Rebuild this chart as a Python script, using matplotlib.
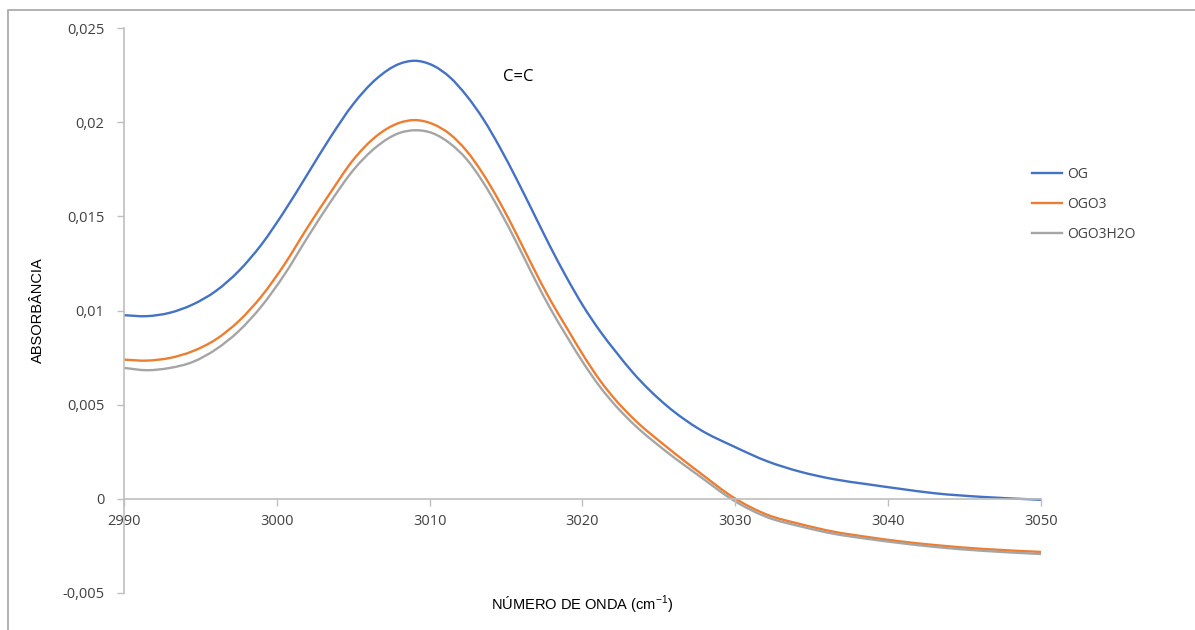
import matplotlib
matplotlib.use('Agg')
import matplotlib.pyplot as plt
import numpy as np
from matplotlib.patches import Rectangle, PathPatch
from matplotlib.path import Path
from matplotlib.lines import Line2D

# wavenumber (cm-1) and absorbance
wavenumber = [2990, 2991.5, 2993.0, 2994.5, 2996.0, 2997.5, 2999.0, 3000.5, 3002.0, 3003.5,
              3005.0, 3006.5, 3008.0, 3009.0, 3010.24, 3011.33, 3012.42, 3013.51, 3014.6,
              3015.69, 3016.78, 3017.87, 3018.97, 3020.05, 3021.15, 3022.24, 3023.3,
              3025.5, 3027.7, 3029.9, 3032.1, 3034.2, 3036.4, 3038.6, 3040.8, 3043.0,
              3046.2, 3050]
og = [0.00975, 0.00970, 0.00988, 0.01032, 0.01103, 0.01209, 0.01351, 0.01528, 0.01723,
      0.01919, 0.02096, 0.02229, 0.02309, 0.02326, 0.02300, 0.02238, 0.02140, 0.02016,
      0.01865, 0.01697, 0.01520, 0.01342, 0.01174, 0.01023, 0.00890, 0.00775, 0.00670,
      0.00495, 0.00367, 0.00278, 0.00199, 0.00145, 0.00105, 0.00078, 0.00053, 0.00030,
      0.00010, -0.00005]
ogo3 = [0.00739, 0.00734, 0.00748, 0.00784, 0.00846, 0.00943, 0.01076, 0.01245, 0.01440,
        0.01625, 0.01800, 0.01925, 0.01996, 0.02011, 0.01989, 0.01936, 0.01847, 0.01723,
        0.01573, 0.01404, 0.01227, 0.01059, 0.00908, 0.00762, 0.00628, 0.00518, 0.00428,
        0.00276, 0.00137, 0.00006, -0.00085, -0.00133, -0.00174, -0.00202, -0.00226,
        -0.00245, -0.00266, -0.00282]
ogo3h2o = [0.00695, 0.00683, 0.00695, 0.00727, 0.00793, 0.00890, 0.01023, 0.01191, 0.01387,
           0.01575, 0.01745, 0.01868, 0.01942, 0.01957, 0.01940, 0.01887, 0.01803, 0.01679,
           0.01528, 0.01360, 0.01182, 0.01014, 0.00863, 0.00722, 0.00594, 0.00488, 0.00400,
           0.00250, 0.00118, -0.00009, -0.00098, -0.00145, -0.00185, -0.00212, -0.00235,
           -0.00255, -0.00276, -0.00293]

series_names = ['OG', 'OGO3', 'OGO3H2O']
series_colors = ['#4472C4', '#ED7D31', '#A5A5A5']

x_ticks = [2990, 3000, 3010, 3020, 3030, 3040, 3050]
y_ticks = [-0.005, 0, 0.005, 0.01, 0.015, 0.02, 0.025]
y_labels = ['-0,005', '0', '0,005', '0,01', '0,015', '0,02', '0,025']


def smooth_path(xs, ys):
    # smoothed line like Excel: cubic bezier segments through the points,
    # tangents from neighbouring points
    x = np.asarray(xs, float)
    y = np.asarray(ys, float)
    m = np.gradient(y, x)
    verts = [(x[0], y[0])]
    codes = [Path.MOVETO]
    for i in range(len(x) - 1):
        h = x[i + 1] - x[i]
        verts += [(x[i] + h / 3, y[i] + m[i] * h / 3),
                  (x[i + 1] - h / 3, y[i + 1] - m[i + 1] * h / 3),
                  (x[i + 1], y[i + 1])]
        codes += [Path.CURVE4] * 3
    return Path(verts, codes)


fig = plt.figure(figsize=(11.95, 6.3), dpi=100)
ax = fig.add_axes([124/1195, 1 - 593/630, (1041 - 124)/1195, (593 - 28)/630])

handles = []
for ys, name, col in zip([og, ogo3, ogo3h2o], series_names, series_colors):
    ax.add_patch(PathPatch(smooth_path(wavenumber, ys), fill=False, edgecolor=col, lw=1.7))
    handles.append(Line2D([], [], color=col, lw=1.7, label=name))

ax.set_xlim(2990, 3050)
ax.set_ylim(-0.005, 0.025)
ax.set_xticks(x_ticks)
ax.set_yticks(y_ticks)
ax.set_yticklabels(y_labels)

axis_col = '#BFBFBF'
ax.spines['top'].set_visible(False)
ax.spines['right'].set_visible(False)
ax.spines['bottom'].set_position(('data', 0))
ax.spines['bottom'].set_color(axis_col)
ax.spines['left'].set_color(axis_col)
ax.spines['bottom'].set_linewidth(1.2)
ax.spines['left'].set_linewidth(1.2)
ax.tick_params(axis='both', colors=axis_col, length=5, width=1, labelcolor='#404040',
               labelsize=10.5)
ax.tick_params(axis='y', pad=9)
ax.tick_params(axis='x', pad=6)
for lab in ax.get_xticklabels() + ax.get_yticklabels():
    lab.set_family('Open Sans')

fig.text(38/1195, 1 - 310/630, 'ABSORBÂNCIA', rotation=90, ha='center', va='center',
         family='Liberation Sans', fontsize=10.5, color='#000000')
fig.text(582/1195, 1 - 605/630, r'NÚMERO DE ONDA (cm$^{\mathregular{-1}}$)', ha='center',
         va='center', family='Liberation Sans', fontsize=10.5, color='#000000')
ax.text(3015.8, 0.0224, 'C=C', ha='center', va='center', family='Open Sans',
        fontsize=12, color='#000000')

leg = ax.legend(handles=handles, loc='upper left', bbox_to_anchor=(1019/1195, 1 - 154/630),
                bbox_transform=fig.transFigure, frameon=False, handlelength=2.2,
                handletextpad=0.4, labelspacing=1.1, prop={'family': 'Open Sans', 'size': 10})
for t in leg.get_texts():
    t.set_color('#404040')

fig.patches.append(Rectangle((8/1195, -0.1), 2, 1 - 10/630 + 0.1, fill=False,
                             edgecolor='#A6A6A6', lw=1.2, transform=fig.transFigure))

fig.savefig('out.png', dpi=100)
